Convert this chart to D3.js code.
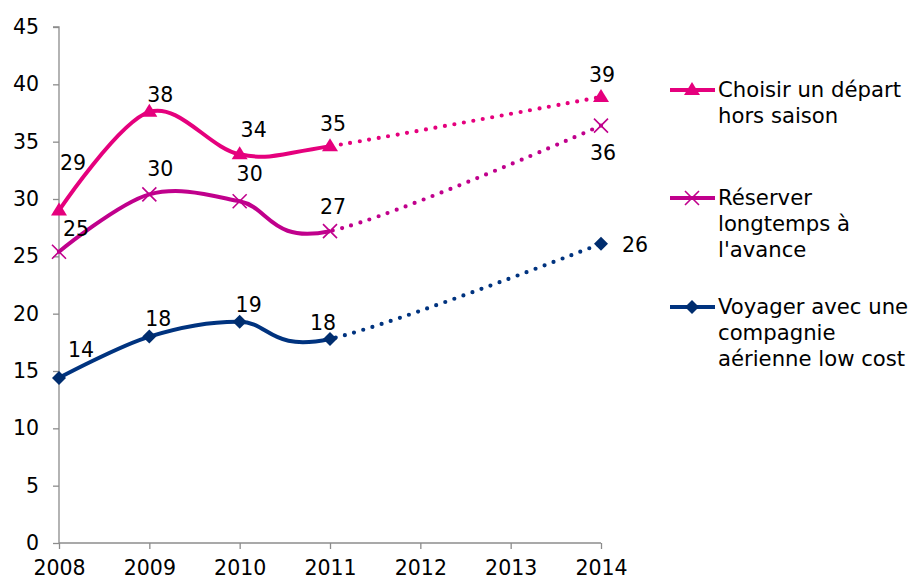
<!DOCTYPE html>
<html>
<head>
<meta charset="utf-8">
<script src="https://cdn.jsdelivr.net/npm/d3@7"></script>
<style>
  html, body { margin: 0; padding: 0; background: #fff; }
  svg { display: block; font-family: "DejaVu Sans", Verdana, sans-serif; }
</style>
</head>
<body>
<svg id="chart" width="914" height="581"></svg>
<script>
// ---- data ----
const years = [2008, 2009, 2010, 2011, 2014];
const xTicks = [2008, 2009, 2010, 2011, 2012, 2013, 2014];
const yTicks = [0, 5, 10, 15, 20, 25, 30, 35, 40, 45];
const seriesNames = [
  ["Choisir un départ", "hors saison"],
  ["Réserver", "longtemps à", "l'avance"],
  ["Voyager avec une", "compagnie", "aérienne low cost"]
];
const horsSaison = [29.0, 37.6, 33.9, 34.6, 38.9];
const reserverTot = [25.4, 30.4, 29.8, 27.2, 36.4];
const lowCost = [14.4, 18.0, 19.3, 17.8, 26.1];

// ---- layout / style ----
const colors = ["#E5007D", "#C0008C", "#00337F"];
const markerColors = ["#E5007D", "#C0008C", "#002D6E"];
const markers = ["triangle", "cross", "diamond"];
// label nudges (dx of centre, dy of baseline) relative to point
const labelNudge = [
  [[14, -40], [11, -10], [14, -17], [3, -15], [1, -15]],
  [[17, -16], [11, -18], [10, -20], [3, -17], [2, 34]],
  [[22, -21], [9, -11], [9, -10], [-7, -9], [34, 8]]
];

const svg = d3.select("#chart");
const x = d3.scaleLinear().domain([2008, 2014]).range([59, 601]);
const y = d3.scaleLinear().domain([0, 45]).range([543, 27]);
const axisColor = "#8c8c8c";

// axes
const gy = svg.append("g").attr("transform", `translate(${x(2008)},0)`)
  .call(d3.axisLeft(y).tickValues(yTicks).tickSize(6).tickPadding(14).tickFormat(d3.format("d")));
const gx = svg.append("g").attr("transform", `translate(0,${y(0)})`)
  .call(d3.axisBottom(x).tickValues(xTicks).tickSize(6).tickPadding(11).tickFormat(d3.format("d")));
[gx, gy].forEach(g => {
  g.select(".domain").attr("stroke", axisColor).attr("stroke-width", 1.3);
  g.selectAll(".tick line").attr("stroke", axisColor).attr("stroke-width", 1.3);
  g.selectAll(".tick text").attr("fill", "#000").style("font-size", "20.5px")
    .style("font-family", '"DejaVu Sans", Verdana, sans-serif');
});
gy.select(".domain").attr("d", `M-6,${y(45)}H0V${y(0)}`);
gx.select(".domain").attr("d", `M${x(2008)},0H${x(2014)}`);

// clip regions for solid (2008-2011) and dotted (2011-2014) parts
const defs = svg.append("defs");
defs.append("clipPath").attr("id", "clipSolid").append("rect")
  .attr("x", 0).attr("y", 0).attr("width", x(2011)).attr("height", 581);
defs.append("clipPath").attr("id", "clipDot").append("rect")
  .attr("x", x(2011)).attr("y", 0).attr("width", 914 - x(2011)).attr("height", 581);

const allSeries = [horsSaison, reserverTot, lowCost];
const line = d3.line().x(d => x(d[0])).y(d => y(d[1])).curve(d3.curveCardinal.tension(0));

function drawMarker(g, type, cx, cy, color) {
  if (type === "triangle") {
    g.append("path").attr("d", `M${cx},${cy - 8}L${cx + 8},${cy + 5}L${cx - 8},${cy + 5}Z`).attr("fill", color);
  } else if (type === "cross") {
    const s = 7;
    g.append("path").attr("d", `M${cx - s},${cy - s}L${cx + s},${cy + s}M${cx - s},${cy + s}L${cx + s},${cy - s}`)
      .attr("stroke", color).attr("stroke-width", 1.6).attr("fill", "none");
  } else {
    const s = 7;
    g.append("path").attr("d", `M${cx},${cy - s}L${cx + s},${cy}L${cx},${cy + s}L${cx - s},${cy}Z`).attr("fill", color);
  }
}

allSeries.forEach((vals, i) => {
  const pts = years.map((yr, j) => [yr, vals[j]]);
  const g = svg.append("g");
  g.append("path").attr("d", line(pts)).attr("clip-path", "url(#clipSolid)")
    .attr("fill", "none").attr("stroke", colors[i]).attr("stroke-width", 4).attr("stroke-linecap", "round");
  g.append("path").attr("d", line(pts)).attr("clip-path", "url(#clipDot)")
    .attr("fill", "none").attr("stroke", colors[i]).attr("stroke-width", 4.2)
    .attr("stroke-linecap", "round").attr("stroke-dasharray", "0 9.6").attr("stroke-dashoffset", -4);
  pts.forEach((p, j) => drawMarker(g, markers[i], x(p[0]), y(p[1]), markerColors[i]));
  pts.forEach((p, j) => {
    g.append("text").attr("x", x(p[0]) + labelNudge[i][j][0]).attr("y", y(p[1]) + labelNudge[i][j][1])
      .attr("text-anchor", "middle").style("font-size", "20.5px").attr("fill", "#000")
      .text(Math.round(p[1]));
  });
});

// legend
const legendY = [90, 198, 307];
seriesNames.forEach((lines, i) => {
  const g = svg.append("g");
  const ly = legendY[i];
  g.append("line").attr("x1", 670).attr("x2", 715).attr("y1", ly).attr("y2", ly)
    .attr("stroke", colors[i]).attr("stroke-width", 4);
  drawMarker(g, markers[i], 692, ly, markerColors[i]);
  const t = g.append("text").attr("x", 718).attr("y", ly + 7).style("font-size", "21.2px").attr("fill", "#000");
  lines.forEach((s, k) => t.append("tspan").attr("x", 718).attr("dy", k === 0 ? 0 : 25.8).text(s));
});
</script>
</body>
</html>
